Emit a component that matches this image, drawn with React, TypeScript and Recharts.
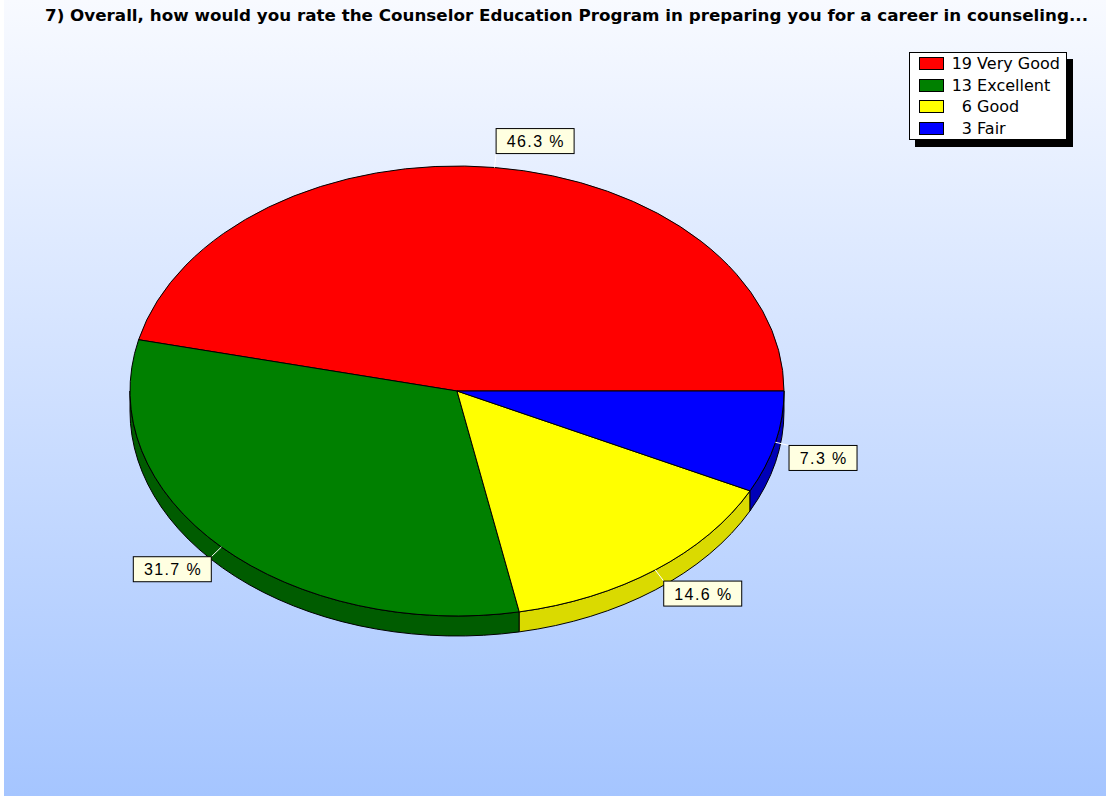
import { PieChart, Pie, Cell, Legend } from "recharts";

const TITLE =
    "7) Overall, how would you rate the Counselor Education Program in preparing you for a career in counseling...";

const categories = ["Very Good", "Excellent", "Good", "Fair"];
const counts = [19, 13, 6, 3];
const colors = ["#ff0000", "#008000", "#ffff00", "#0000ff"];
const sideColors = ["#c00000", "#005c00", "#dada00", "#0000b8"];

const data = categories.map((name, i) => ({ name, count: counts[i] }));

const SQUASH = 225 / 327;
const DEPTH = 20;
const RAD = Math.PI / 180;
const LABEL_SPACING = 1.4;

function EllipseSector(props: any) {
    const { cx, cy, outerRadius, startAngle, endAngle, index } = props;
    const rx = outerRadius;
    const ry = outerRadius * SQUASH;
    const pt = (a: number, dy = 0) =>
        `${cx + rx * Math.cos(a * RAD)},${cy - ry * Math.sin(a * RAD) + dy}`;
    const s = Math.min(startAngle, endAngle);
    const e = Math.max(startAngle, endAngle);
    const large = e - s > 180 ? 1 : 0;
    const top = `M${cx},${cy} L${pt(s)} A${rx},${ry} 0 ${large} 0 ${pt(e)} Z`;

    // side wall only for the front (lower) half of the ellipse
    const a0 = Math.max(s, 180);
    const a1 = Math.min(e, 360);
    let wall = "";
    if (a1 > a0) {
        wall =
            `M${pt(a0)} A${rx},${ry} 0 0 0 ${pt(a1)} ` +
            `L${pt(a1, DEPTH)} A${rx},${ry} 0 0 1 ${pt(a0, DEPTH)} Z`;
    }
    return (
        <g>
            {wall && (
                <path d={wall} fill={sideColors[index]} stroke="#000" strokeWidth={1} />
            )}
            <path d={top} fill={colors[index]} stroke="#000" strokeWidth={1} />
        </g>
    );
}

const charW: Record<string, number> = { ".": 4.45, " ": 4.45, "%": 14.2 };
function textWidth(t: string) {
    let w = 0;
    for (const c of t) w += (charW[c] ?? 8.9) + LABEL_SPACING;
    return w;
}

function renderLabel(props: any) {
    const { cx, cy, midAngle, outerRadius, percent } = props;
    const rx = outerRadius;
    const ry = outerRadius * SQUASH;
    const c = Math.cos(midAngle * RAD);
    const sn = Math.sin(midAngle * RAD);
    const px = cx + rx * c;
    const py = cy - ry * sn;
    const ex = px + 14 * c;
    const ey = py - 14 * sn;
    const text = `${(percent * 100).toFixed(1)} %`;
    const w = Math.round(textWidth(text) + 20);
    const h = 25;
    const bx = c >= 0 ? ex : ex - w;
    const by = sn >= 0 ? ey - h : ey;
    return (
        <g>
            <line x1={px} y1={py} x2={ex} y2={ey} stroke="#fff" strokeWidth={1} />
            <rect x={bx} y={by} width={w} height={h} fill="#ffffe1" stroke="#000" strokeWidth={1} />
            <text
                x={bx + w / 2 + LABEL_SPACING / 2}
                y={by + h / 2 + 6}
                textAnchor="middle"
                fontFamily="Liberation Sans, Arial, sans-serif"
                fontSize={16}
                letterSpacing={LABEL_SPACING}
                fill="#000"
            >
                {text}
            </text>
        </g>
    );
}

function LegendBox() {
    return (
        <div
            style={{
                width: 156,
                height: 86,
                background: "#fff",
                border: "1px solid #000",
                boxShadow: "6px 7px 0 #000",
                fontFamily: "DejaVu Sans, Verdana, sans-serif",
                fontSize: 16,
                color: "#000",
            }}
        >
            {data.map((d, i) => (
                <div
                    key={d.name}
                    style={{ height: 21.5, display: "flex", alignItems: "center", whiteSpace: "nowrap" }}
                >
                    <span
                        style={{
                            width: 23,
                            height: 11,
                            marginLeft: 9,
                            background: colors[i],
                            border: "1px solid #000",
                            display: "inline-block",
                        }}
                    />
                    <span style={{ display: "inline-block", width: 28, textAlign: "right" }}>
                        {d.count}
                    </span>
                    <span>&nbsp;{d.name}</span>
                </div>
            ))}
        </div>
    );
}

export default function App() {
    return (
        <div style={{ position: "absolute", left: 0, top: 0, width: 1106, height: 796, background: "#fff" }}>
            <div
                style={{
                    position: "absolute",
                    left: 4,
                    top: 0,
                    right: 0,
                    bottom: 0,
                    background: "linear-gradient(to bottom, #f8faff 0%, #a5c5ff 100%)",
                }}
            />
            <div style={{ position: "absolute", left: 0, top: 0 }}>
                <PieChart width={1106} height={796} margin={{ top: 0, right: 0, bottom: 0, left: 0 }}>
                    <Pie
                        data={data}
                        dataKey="count"
                        nameKey="name"
                        cx={457}
                        cy={391}
                        outerRadius={327}
                        startAngle={0}
                        endAngle={360}
                        stroke="#000"
                        shape={EllipseSector}
                        inactiveShape={EllipseSector}
                        activeShape={EllipseSector}
                        label={renderLabel}
                        labelLine={false}
                        isAnimationActive={false}
                    >
                        {data.map((d, i) => (
                            <Cell key={d.name} fill={colors[i]} />
                        ))}
                    </Pie>
                    <Legend
                        content={() => <LegendBox />}
                        wrapperStyle={{ position: "absolute", left: 909, top: 52, width: 160 }}
                    />
                </PieChart>
            </div>
            <svg width={1106} height={30} style={{ position: "absolute", left: 0, top: 0 }}>
                <text
                    x={45}
                    y={21}
                    fontFamily="DejaVu Sans, Verdana, sans-serif"
                    fontWeight="bold"
                    fontSize={16.5}
                    textLength={1043}
                    lengthAdjust="spacingAndGlyphs"
                    fill="#000"
                >
                    {TITLE}
                </text>
            </svg>
        </div>
    );
}
